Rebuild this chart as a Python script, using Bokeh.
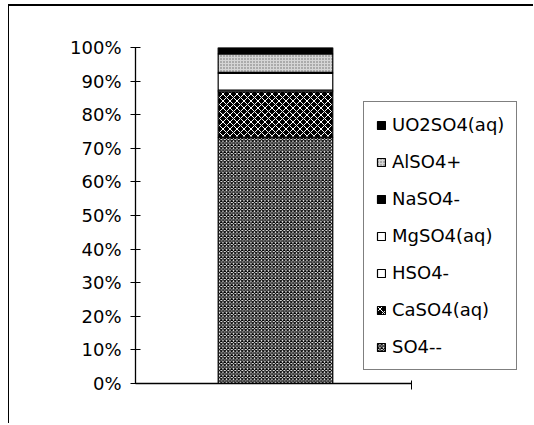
from bokeh.plotting import figure
from bokeh.models import Legend, LegendItem, NumeralTickFormatter, FixedTicker, Range1d
from bokeh.embed import file_html
from bokeh.resources import INLINE

# Data (stack order bottom -> top), fractions of total sulfate
categories = ["sample"]
species = ["SO4--", "CaSO4(aq)", "HSO4-", "MgSO4(aq)", "NaSO4-", "AlSO4+", "UO2SO4(aq)"]
fractions = [0.733, 0.135, 0.005, 0.050, 0.003, 0.055, 0.019]
y_ticks = [0.0, 0.1, 0.2, 0.3, 0.4, 0.5, 0.6, 0.7, 0.8, 0.9, 1.0]

fill_colors = ["#ffffff", "#000000", "#ffffff", "#ffffff", "#000000", "#d6d6d6", "#000000"]
hatch_patterns = ["diagonal_cross", "diagonal_cross", None, None, None, "dot", None]
hatch_colors = ["#000000", "#ffffff", None, None, None, "#6a6a6a", None]
hatch_scales = [3.5, 7, 6, 6, 6, 3, 6]
hatch_weights = [1.2, 1, 1, 1, 1, 1, 1]

FONT = "DejaVu Sans"

# positions of categories on a numeric axis (one unit per category)
xpos = [i + 0.5 for i in range(len(categories))]
x_start = -0.013

p = figure(width=525, height=419, x_range=Range1d(x_start, 1.387), y_range=Range1d(0, 1),
           output_backend="svg", toolbar_location=None,
           min_border_left=126, min_border_right=17, min_border_top=41, min_border_bottom=42)
p.styles = {"margin-left": "8px", "margin-top": "4px",
            "border-left": "1px solid #000", "border-top": "2px solid #000"}
p.outline_line_color = None
p.xgrid.grid_line_color = None
p.ygrid.grid_line_color = None
p.background_fill_color = "white"

bottom = 0.0
renderers = []
for i, s in enumerate(species):
    top = bottom + fractions[i]
    kw = dict(x=xpos, bottom=[bottom], top=[top], width=0.42,
              fill_color=fill_colors[i], line_color="black", line_width=1.2)
    if hatch_patterns[i]:
        kw.update(hatch_pattern=hatch_patterns[i], hatch_color=hatch_colors[i],
                  hatch_scale=hatch_scales[i], hatch_weight=hatch_weights[i])
    r = p.vbar(**kw)
    renderers.append(r)
    bottom = top

p.yaxis.ticker = FixedTicker(ticks=y_ticks)
p.yaxis.formatter = NumeralTickFormatter(format="0%")
p.yaxis.major_label_text_font = FONT
p.yaxis.major_label_text_font_size = "18px"
p.yaxis.major_label_text_color = "black"
p.yaxis.major_tick_in = 5
p.yaxis.major_tick_out = 5
p.yaxis.minor_tick_line_color = None
p.yaxis.axis_line_color = "black"
p.yaxis.major_tick_line_color = "black"
p.yaxis.axis_line_width = 1.3
p.yaxis.major_label_standoff = 9

p.xaxis.bounds = (x_start, len(categories))
p.xaxis.ticker = FixedTicker(ticks=[len(categories)])
p.xaxis.major_label_overrides = {len(categories): " "}
p.xaxis.major_label_text_font_size = "1px"
p.xaxis.major_label_text_color = None
p.xaxis.major_tick_in = 3
p.xaxis.major_tick_out = 6
p.xaxis.major_tick_line_color = "black"
p.xaxis.minor_tick_line_color = None
p.xaxis.axis_line_color = "black"
p.xaxis.axis_line_width = 1.3

items = [LegendItem(label=species[i], renderers=[renderers[i]]) for i in reversed(range(len(species)))]
legend = Legend(items=items, location=(228, 13), orientation="vertical")
legend.label_text_font = FONT
legend.label_text_font_size = "18px"
legend.label_text_color = "black"
legend.glyph_width = 10
legend.glyph_height = 10
legend.label_standoff = 6
legend.spacing = 16
legend.padding = 12
legend.margin = 0
legend.border_line_color = "black"
legend.border_line_width = 1
legend.background_fill_alpha = 1
p.add_layout(legend, "center")

open("out.html", "w").write(file_html(p, INLINE))
